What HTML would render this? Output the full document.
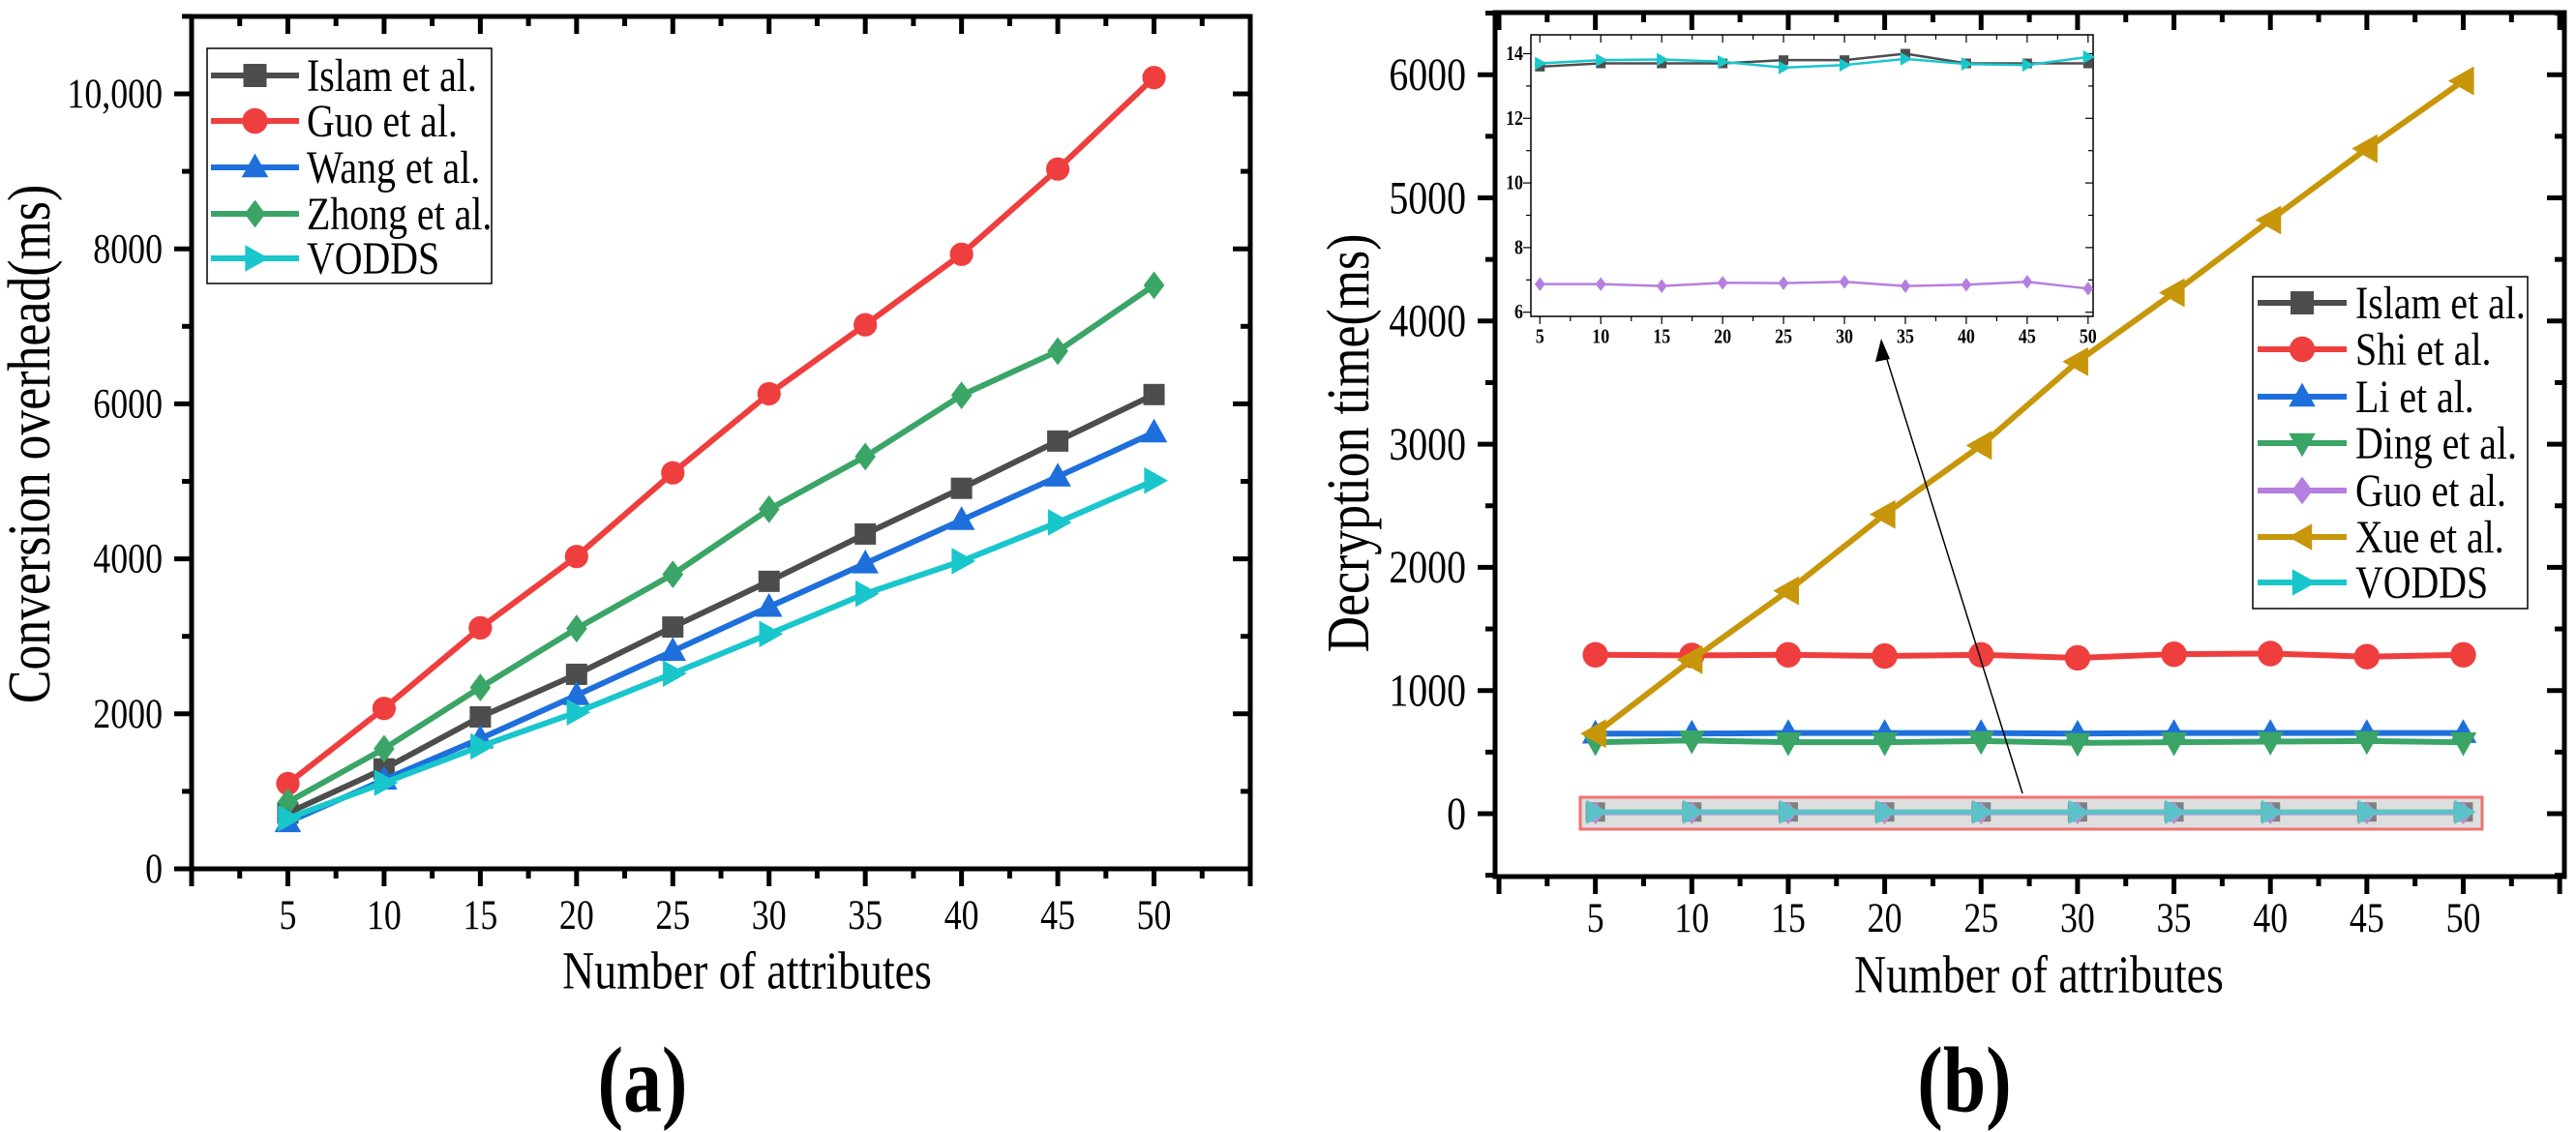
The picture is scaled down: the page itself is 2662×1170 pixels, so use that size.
<!DOCTYPE html>
<html><head><meta charset="utf-8"><style>
body{margin:0;background:#fff}
svg{display:block;font-family:"Liberation Serif",serif}
</style></head><body>
<svg id="c" width="2662" height="1170" viewBox="0 0 2662 1170"></svg>
<script>
const xCats=[5,10,15,20,25,30,35,40,45,50];
const aIslam=[720,1290,1960,2510,3120,3710,4320,4910,5520,6120];
const aGuo=[1100,2070,3110,4030,5110,6130,7020,7930,9030,10210];
const aWang=[600,1150,1680,2240,2810,3380,3940,4500,5060,5630];
const aZhong=[860,1550,2340,3100,3800,4640,5320,6110,6680,7530];
const aVodds=[650,1110,1580,2020,2520,3030,3550,3970,4470,5010];
const aYTicks=[0,2000,4000,6000,8000,10000];
const aYLabels=["0","2000","4000","6000","8000","10,000"];
const bIslam=[13.6,13.7,13.7,13.7,13.8,13.8,14.0,13.7,13.7,13.7];
const bShi=[1290,1285,1290,1280,1290,1265,1295,1300,1275,1290];
const bLi=[650,650,655,655,655,650,655,655,655,655];
const bDing=[580,595,580,580,590,575,580,585,590,580];
const bGuo=[6.87,6.87,6.81,6.91,6.9,6.94,6.81,6.85,6.94,6.73];
const bXue=[650,1250,1810,2430,2990,3670,4230,4820,5400,5950];
const bVodds=[13.7,13.8,13.82,13.75,13.57,13.65,13.84,13.68,13.65,13.9];
const bYTicks=[0,1000,2000,3000,4000,5000,6000];
const insetYTicks=[6,8,10,12,14];

const NS="http://www.w3.org/2000/svg";
const svg=document.getElementById('c');
function mk(tag,attrs,parent){const e=document.createElementNS(NS,tag);for(const k in attrs)e.setAttribute(k,attrs[k]);(parent||svg).appendChild(e);return e;}
function txt(s,x,y,size,anchor,parent,bold,rot){
  const t=mk('text',{x:0,y:0,'font-size':size*1.2,'text-anchor':anchor||'middle','dominant-baseline':'central'},parent);
  t.setAttribute('transform',`translate(${x},${y})`+(rot?` rotate(${rot})`:'')+' scale(0.83,1)');
  if(bold)t.setAttribute('font-weight','bold');t.textContent=s;return t;}

function marker(type,x,y,r,color,parent){
  let e;
  if(type==='sq')e=mk('rect',{x:x-r,y:y-r,width:2*r,height:2*r,fill:color},parent);
  else if(type==='ci')e=mk('circle',{cx:x,cy:y,r:r*1.1,fill:color},parent);
  else if(type==='up')e=mk('polygon',{points:`${x},${y-r*1.2} ${x-r*1.15},${y+r*0.85} ${x+r*1.15},${y+r*0.85}`,fill:color},parent);
  else if(type==='dn')e=mk('polygon',{points:`${x},${y+r*1.2} ${x-r*1.15},${y-r*0.85} ${x+r*1.15},${y-r*0.85}`,fill:color},parent);
  else if(type==='di')e=mk('polygon',{points:`${x},${y-r*1.2} ${x+r*0.9},${y} ${x},${y+r*1.2} ${x-r*0.9},${y}`,fill:color},parent);
  else if(type==='lf')e=mk('polygon',{points:`${x-r*1.2},${y} ${x+r*0.85},${y-r*1.15} ${x+r*0.85},${y+r*1.15}`,fill:color},parent);
  else if(type==='rt')e=mk('polygon',{points:`${x+r*1.2},${y} ${x-r*0.85},${y-r*1.15} ${x-r*0.85},${y+r*1.15}`,fill:color},parent);
  return e;
}
function series(name,vals,sx,sy,color,type,lw,r,parent){
  const g=mk('g',{},parent);
  
  
  const pts=vals.map((v,i)=>[sx(xCats[i]),sy(v)]);
  mk('polyline',{points:pts.map(p=>p.join(',')).join(' '),fill:'none',stroke:color,'stroke-width':lw,'stroke-linejoin':'round'},g);
  pts.forEach(p=>marker(type,p[0],p[1],r,color,g));
}
function frame(L,T,R,B,sx,sy,xmax,yMinor,yMajor,parent){
  const g=mk('g',{},parent);
  
  
  mk('rect',{x:L,y:T,width:R-L,height:B-T,fill:'none',stroke:'#000','stroke-width':5},g);
  for(let v=0;v<=xmax+0.01;v+=2.5){const x=sx(v);const len=(v%5===0)?18:10;
    mk('line',{x1:x,y1:B,x2:x,y2:B+len,stroke:'#000','stroke-width':5},g);
    mk('line',{x1:x,y1:T,x2:x,y2:T+len,stroke:'#000','stroke-width':5},g);}
  yMinor.forEach(v=>{const y=sy(v);mk('line',{x1:L,y1:y,x2:L-10,y2:y,stroke:'#000','stroke-width':5},g);mk('line',{x1:R,y1:y,x2:R-10,y2:y,stroke:'#000','stroke-width':5},g);});
  yMajor.forEach(v=>{const y=sy(v);mk('line',{x1:L,y1:y,x2:L-18,y2:y,stroke:'#000','stroke-width':5},g);mk('line',{x1:R,y1:y,x2:R-18,y2:y,stroke:'#000','stroke-width':5},g);});
}
function legend(items,x0,y0,x1,y1,rows,lineX0,lineX1,textX,parent){
  const g=mk('g',{},parent);
  
  
  mk('rect',{x:x0,y:y0,width:x1-x0,height:y1-y0,fill:'#fff',stroke:'#000','stroke-width':1.5},g);
  items.forEach((it,i)=>{const y=rows[i];const e=mk('g',{},g);
    
    
    mk('line',{x1:lineX0,y1:y,x2:lineX1,y2:y,stroke:it[1],'stroke-width':6},e);
    marker(it[2],(lineX0+lineX1)/2,y,12,it[1],e);
    txt(it[0],textX,y,40,'start',e);});
}

// ---------- chart (a) ----------
const aL=198,aT=17,aR=1292,aB=898;
const ax=v=>aL+v*(aR-aL)/55;
const ay=v=>aB-v*0.0801;
const gA=mk('g',{});


frame(aL,aT,aR,aB,ax,ay,55,[1000,3000,5000,7000,9000,11000],aYTicks,gA);
aYTicks.forEach((v,i)=>txt(aYLabels[i],168,ay(v),36,'end',gA));
xCats.forEach(v=>txt(String(v),ax(v),946,36,'middle',gA));
const xtA=txt('Number of attributes',772,1003,46,'middle',gA);
const ytA=txt('Conversion overhead(ms)',31,459,52,'middle',gA,false,-90);
series('series-islam',aIslam,ax,ay,'#4d4d4d','sq',6,11,gA);
series('series-guo',aGuo,ax,ay,'#ef3e3e','ci',6,11,gA);
series('series-zhong',aZhong,ax,ay,'#3aa566','di',6,12,gA);
series('series-wang',aWang,ax,ay,'#1e6fdc','up',6,12,gA);
series('series-vodds',aVodds,ax,ay,'#19c6cc','rt',6,12,gA);
legend([['Islam et al.','#4d4d4d','sq'],['Guo et al.','#ef3e3e','ci'],['Wang et al.','#1e6fdc','up'],['Zhong et al.','#3aa566','di'],['VODDS','#19c6cc','rt']],
  214,50,508,293,[78,125,173,221,267],218,309,317,gA);
const la=txt('(a)',664,1117,80,'middle',gA,true);

// ---------- chart (b) ----------
const bL=1545,bT=13,bR=2650,bB=906;
const bx=v=>1549+v*19.93;
const by=v=>841-v*0.1273;
const gB=mk('g',{});


frame(bL,bT,bR,bB,bx,by,55,[-500,500,1500,2500,3500,4500,5500,6500],bYTicks,gB);
bYTicks.forEach(v=>txt(String(v),1515,by(v),40,'end',gB));
xCats.forEach(v=>txt(String(v),bx(v),949,36,'middle',gB));
const xtB=txt('Number of attributes',2107,1007,46,'middle',gB);
const ytB=txt('Decryption time(ms)',1394,458,52,'middle',gB,false,-90);
const hl=mk('rect',{x:1633,y:824,width:932,height:33,fill:'#dedede',stroke:'#f07070','stroke-width':3},gB);


series('series-shi',bShi,bx,by,'#ef3e3e','ci',6,12,gB);
series('series-li',bLi,bx,by,'#1e6fdc','up',6,12,gB);
series('series-ding',bDing,bx,by,'#3aa566','dn',6,12,gB);
series('series-xue',bXue,bx,by,'#c8960a','lf',6,13,gB);
series('series-islam-main',bIslam,bx,by,'#808080','sq',5,10,gB);
series('series-guo-main',bGuo,bx,by,'#b58fd6','di',5,10,gB);
series('series-vodds-main',bVodds,bx,by,'#5bc3c8','rt',5,11,gB);
const ar=mk('g',{},gB);


mk('line',{x1:2090,y1:820,x2:1947,y2:362,stroke:'#000','stroke-width':1.5},ar);
mk('polygon',{points:'1944,350 1938,374 1953,371',fill:'#000'},ar);
legend([['Islam et al.','#4d4d4d','sq'],['Shi et al.','#ef3e3e','ci'],['Li et al.','#1e6fdc','up'],['Ding et al.','#3aa566','dn'],['Guo et al.','#b57fe0','di'],['Xue et al.','#c8960a','lf'],['VODDS','#19c6cc','rt']],
  2328,286,2612,629,[313,361,410,458,507,555,602],2333,2425,2434,gB);
const gI=mk('g',{},gB);


const iL=1582,iT=36,iR=2163,iB=327;
const ix=v=>1591.3+(v-5)*(2157.8-1591.3)/45;
const iy=v=>322.7-(v-6)*33.4;
mk('rect',{x:iL,y:iT,width:iR-iL,height:iB-iT,fill:'#fff',stroke:'#000','stroke-width':1.5},gI);
for(let v=5;v<=50.01;v+=2.5){const x=ix(v);const len=(v%5===0)?8:5;
  mk('line',{x1:x,y1:iB,x2:x,y2:iB+len,stroke:'#000','stroke-width':1.2},gI);
  mk('line',{x1:x,y1:iT,x2:x,y2:iT+len,stroke:'#000','stroke-width':1.2},gI);}
for(let v=6;v<=14.01;v+=1){const y=iy(v);const len=(v%2===0)?8:5;
  mk('line',{x1:iL,y1:y,x2:iL-len,y2:y,stroke:'#000','stroke-width':1.2},gI);
  mk('line',{x1:iR,y1:y,x2:iR-len,y2:y,stroke:'#000','stroke-width':1.2},gI);}
insetYTicks.forEach(v=>txt(String(v),1574,iy(v),18,'end',gI,true));
xCats.forEach(v=>txt(String(v),ix(v),348,18,'middle',gI,true));
series('inset-islam',bIslam,ix,iy,'#4d4d4d','sq',2.5,5,gI);
series('inset-guo',bGuo,ix,iy,'#b57fe0','di',2.5,6,gI);
series('inset-vodds',bVodds,ix,iy,'#19c6cc','rt',2.5,6,gI);
const lb=txt('(b)',2030,1117,80,'middle',gB,true);
</script>
</body></html>
